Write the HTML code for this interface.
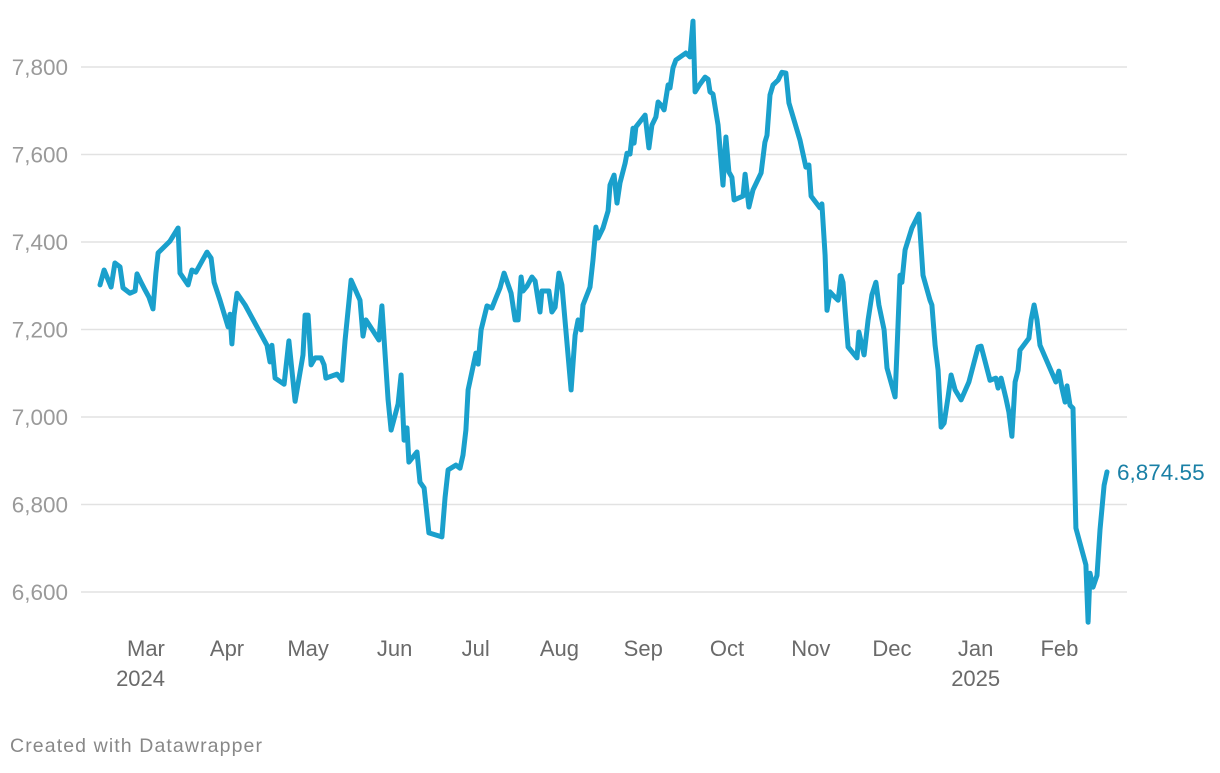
<!DOCTYPE html>
<html><head><meta charset="utf-8"><style>
body{margin:0;background:#fff;width:1220px;height:768px;overflow:hidden;font-family:"Liberation Sans",sans-serif}
svg text{font-family:"Liberation Sans",sans-serif}
</style></head><body>
<svg id="chart" width="1220" height="768" xmlns="http://www.w3.org/2000/svg">
<g id="grid"></g>
<g id="yticks"></g>
<g id="xticks"></g>
<path id="line" fill="none" stroke="#1aa0cc" stroke-width="5" stroke-linejoin="round" stroke-linecap="round"></path>
<text id="lastlabel" x="1117" y="480" font-size="22.5" fill="#1a80a6"></text>
<text x="10" y="752" font-size="19.5" fill="#888" textLength="252">Created with Datawrapper</text>
</svg>
<script>
const yTicks=[6600,6800,7000,7200,7400,7800,7600];
const monthLabels=["Mar","Apr","May","Jun","Jul","Aug","Sep","Oct","Nov","Dec","Jan","Feb"];
const monthDays=[17,47,77,109,139,170,201,232,263,293,324,355];
const yearLabels=[["2024",15],["2025",324]];
const days=[0,1.5,4.1,5.5,7.4,8.5,11.1,13,13.7,15.2,16.7,18.1,19.6,20.7,21.5,25.9,28.9,29.6,32.6,34,35.5,39.6,41.1,42.2,44.4,47.4,48.1,48.8,49.6,50.7,53.7,61.8,62.9,63.6,64.8,68.1,69.9,72.2,75.1,75.9,77,78.1,79.6,81.8,82.9,83.6,87.7,89.5,90.7,92.9,96.2,97.3,98.4,103.2,104.3,106.6,107.7,110.3,111.4,112.5,113.6,114.3,117.3,118.4,119.9,121.7,126.5,127.7,128.8,131.7,133.2,134.3,135.4,136.2,139.1,139.9,141,143.2,145,146.5,148,149.5,152.1,153.6,154.7,155.8,156.5,158,159.8,161,162.8,163.5,166.1,167.2,168.4,169.8,170.9,174.3,175.8,176.9,178,178.7,181.3,182.4,183.5,184.3,186.1,188,188.7,190.2,191.3,192.4,194.3,195,196.1,197.2,197.6,198.3,201.7,203.1,204.2,205.7,206.5,207.6,208.7,210.2,210.9,212,213.1,216.8,218.3,219.4,220.2,222,223.9,225,225.7,226.8,228.7,230.5,231.6,232.7,233.8,234.6,237.9,238.7,240.1,241.6,244.6,246,246.8,247.9,249,250.9,252.3,253.8,254.9,259,261.2,262.3,263.1,266.4,267.1,268.3,269,270.1,271.6,273.1,274.2,274.9,276,276.8,280.1,280.8,282.7,284.2,285.6,287.1,288.2,290.1,291.2,294.2,295.3,296,296.7,297.9,300.4,303,304.5,307.1,307.8,309,310.1,311.2,312.3,313.8,314.9,316.4,318.6,321.5,324.9,326,329.3,331.5,332.3,333.4,335.2,336.3,337.4,338.6,339.7,340.4,343.7,344.5,345.6,346.7,347.8,353.7,354.8,355.9,357.1,357.8,358.9,360,361.1,364.8,365.6,366.3,367.4,368.9,370,371.5,372.6];
const values=[7302,7336,7297,7352,7343,7295,7283,7288,7327,7308,7290,7274,7247,7329,7375,7402,7432,7329,7302,7336,7331,7377,7363,7308,7267,7206,7235,7167,7233,7283,7256,7164,7126,7164,7089,7075,7174,7036,7142,7233,7233,7119,7135,7135,7119,7089,7098,7084,7176,7313,7267,7185,7222,7176,7254,7039,6970,7030,7096,6947,6975,6897,6920,6851,6838,6735,6726,6817,6879,6890,6883,6913,6970,7062,7146,7121,7199,7254,7249,7272,7295,7329,7283,7222,7222,7320,7288,7299,7320,7311,7240,7288,7288,7240,7251,7329,7302,7062,7187,7222,7199,7256,7297,7359,7434,7409,7432,7471,7530,7553,7489,7535,7580,7603,7601,7660,7626,7663,7690,7615,7667,7686,7720,7713,7702,7759,7752,7798,7816,7832,7823,7905,7743,7761,7777,7772,7743,7738,7667,7530,7640,7560,7548,7496,7505,7555,7480,7519,7558,7628,7644,7736,7759,7770,7788,7786,7718,7633,7571,7576,7505,7478,7487,7370,7244,7286,7276,7267,7322,7308,7222,7160,7135,7194,7142,7222,7279,7308,7256,7199,7112,7046,7215,7324,7308,7382,7432,7464,7324,7267,7256,7164,7107,6977,6986,7046,7096,7062,7039,7080,7160,7162,7084,7089,7066,7089,7043,7011,6956,7080,7107,7153,7180,7222,7256,7222,7164,7080,7105,7066,7034,7071,7027,7020,6746,6662,6531,6643,6611,6638,6742,6844,6874.55];

const xs=d=>100+d*2.7027;
const ys=v=>67+(7800-v)*0.4375;
const NS="http://www.w3.org/2000/svg";
const grid=document.getElementById('grid'),yt=document.getElementById('yticks'),xt=document.getElementById('xticks');
yTicks.forEach(t=>{
  const l=document.createElementNS(NS,'line');
  
  
  l.setAttribute('x1',81);l.setAttribute('x2',1127);l.setAttribute('y1',ys(t));l.setAttribute('y2',ys(t));
  l.setAttribute('stroke','#e2e2e2');l.setAttribute('stroke-width','1.5');
  grid.appendChild(l);
  const tx=document.createElementNS(NS,'text');
  
  
  tx.setAttribute('x',68);tx.setAttribute('y',ys(t)+8);tx.setAttribute('text-anchor','end');
  tx.setAttribute('font-size','22.5');tx.setAttribute('fill','#9a9a9a');
  tx.textContent=t.toLocaleString('en-US');
  yt.appendChild(tx);
});
monthLabels.forEach((m,i)=>{
  const tx=document.createElementNS(NS,'text');
  
  
  tx.setAttribute('x',xs(monthDays[i]));tx.setAttribute('y',656);tx.setAttribute('text-anchor','middle');
  tx.setAttribute('font-size','22');tx.setAttribute('fill','#6a6a6a');
  tx.textContent=m;xt.appendChild(tx);
});
yearLabels.forEach(([y,d])=>{
  const tx=document.createElementNS(NS,'text');
  
  
  tx.setAttribute('x',xs(d));tx.setAttribute('y',686);tx.setAttribute('text-anchor','middle');
  tx.setAttribute('font-size','22');tx.setAttribute('fill','#6a6a6a');
  tx.textContent=y;xt.appendChild(tx);
});
document.getElementById('line').setAttribute('d',days.map((d,i)=>(i?'L':'M')+xs(d).toFixed(1)+','+ys(values[i]).toFixed(1)).join(''));
const last=values[values.length-1];
const ll=document.getElementById('lastlabel');
ll.setAttribute('y',ys(last)+8);
ll.textContent=last.toLocaleString('en-US',{minimumFractionDigits:2});
</script>
</body></html>
